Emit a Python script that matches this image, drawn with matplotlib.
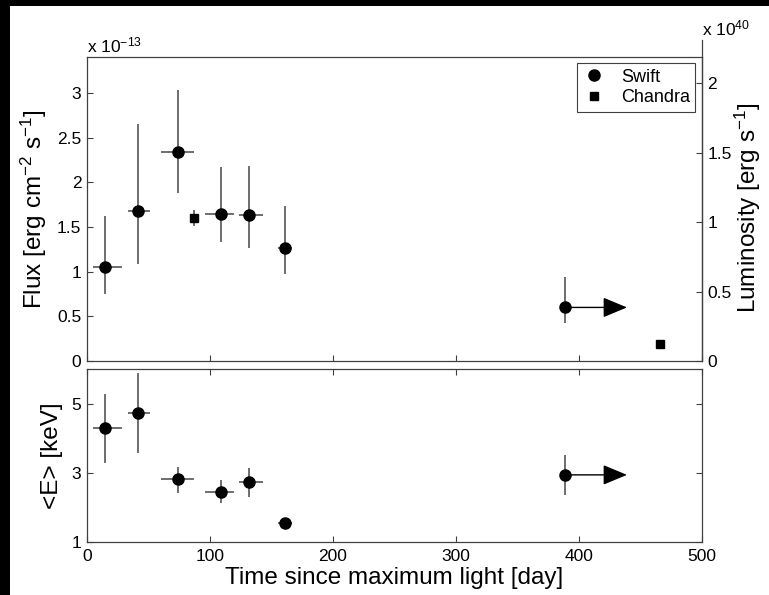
import matplotlib
matplotlib.use("Agg")
import matplotlib.pyplot as plt
from matplotlib.patches import Rectangle
from matplotlib.lines import Line2D
import numpy as np

plt.rcParams["font.family"] = ["Liberation Sans", "DejaVu Sans"]
plt.rcParams["mathtext.fontset"] = "custom"
plt.rcParams["mathtext.rm"] = "Liberation Sans"
plt.rcParams["mathtext.it"] = "Liberation Sans:italic"
plt.rcParams["mathtext.bf"] = "Liberation Sans:bold"

# Swift points (day since max, flux in 1e-13 cgs, mean energy in keV)
swift_day = [14.6, 41.7, 73.7, 109.0, 131.7, 161.0, 388.5]
swift_day_lo = [10.0, 8.7, 13.7, 13.0, 8.0, 6.0, 0.0]
swift_day_hi = [13.5, 9.5, 13.3, 10.5, 11.0, 6.0, 0.0]
swift_flux = [1.05, 1.68, 2.34, 1.65, 1.63, 1.26, 0.60]
swift_flux_min = [0.75, 1.09, 1.88, 1.33, 1.27, 0.97, 0.43]
swift_flux_max = [1.62, 2.65, 3.04, 2.17, 2.18, 1.74, 0.94]
swift_energy = [4.30, 4.74, 2.81, 2.45, 2.73, 1.56, 2.94]
swift_energy_min = [3.29, 3.58, 2.41, 2.12, 2.31, 1.50, 2.35]
swift_energy_max = [5.27, 5.89, 3.18, 2.79, 3.15, 1.62, 3.51]
limit_end_day = 439.0  # last Swift point is a lower limit in time

# Chandra points
chandra_day = [87.2, 466.0]
chandra_flux = [1.605, 0.19]
chandra_flux_min = [1.51, 0.19]
chandra_flux_max = [1.69, 0.19]

flux_ticks = [0, 0.5, 1, 1.5, 2, 2.5, 3]
lum_ticks = [0, 0.5, 1, 1.5, 2]
energy_ticks = [1, 3, 5]
day_ticks = [0, 100, 200, 300, 400, 500]

W, H = 769, 595
ecol = "#555555"
scol = "#404040"


def fx(px):
    return px / W


def fy(py):
    return 1 - py / H


fig = plt.figure(figsize=(W / 100, H / 100), dpi=100)
fig.patch.set_facecolor("black")
fig.patches.append(Rectangle((fx(10), 0), 1 - fx(10), fy(6), transform=fig.transFigure,
                             facecolor="white", edgecolor="none", zorder=-10))

# ---- top panel: flux
ax1 = fig.add_axes([fx(87), fy(361), fx(702) - fx(87), fy(56.7) - fy(361)])
ax1.set_xlim(0, 500)
ax1.set_ylim(0, 3.408)

sf = np.array(swift_flux)
ax1.errorbar(swift_day, swift_flux,
             xerr=[swift_day_lo, swift_day_hi],
             yerr=[sf - np.array(swift_flux_min), np.array(swift_flux_max) - sf],
             fmt="o", color="black", ms=8, ecolor=ecol, elinewidth=1.2, capsize=0, zorder=3)
cf = np.array(chandra_flux)
ax1.errorbar(chandra_day, chandra_flux,
             yerr=[cf - np.array(chandra_flux_min), np.array(chandra_flux_max) - cf],
             fmt="s", color="black", ms=6, ecolor=ecol, elinewidth=1.2, capsize=0, zorder=3)
ax1.annotate("", xy=(limit_end_day, swift_flux[-1]), xytext=(swift_day[-1], swift_flux[-1]),
             arrowprops=dict(arrowstyle="-|>,head_length=0.6,head_width=0.25", mutation_scale=25,
                             color="black", lw=1.0, shrinkA=0, shrinkB=0), zorder=2)

ax1.set_xticks(day_ticks)
ax1.set_yticks(flux_ticks)
ax1.set_yticklabels([f"{t:g}" for t in flux_ticks])
ax1.tick_params(direction="in", length=4, width=0.8, color=scol, labelsize=12.5, pad=4,
                top=False, right=False, labelbottom=False)
for s in ax1.spines.values():
    s.set_color(scol)
    s.set_linewidth(0.9)

handles = [Line2D([], [], marker="o", ls="none", color="black", ms=8),
           Line2D([], [], marker="s", ls="none", color="black", ms=6)]
leg = ax1.legend(handles, ["Swift", "Chandra"], loc="upper right", bbox_to_anchor=(0.989, 0.979),
                 borderaxespad=0, fancybox=False, framealpha=1, edgecolor=scol, fontsize=13,
                 handlelength=1.2, handletextpad=0.9, borderpad=0.3, labelspacing=0.2)
leg.get_frame().set_linewidth(0.8)

fig.text(fx(87), fy(45), r"x 10$^{-13}$", fontsize=12.5, ha="left", va="center")

# ---- luminosity axis (right)
axr = fig.add_axes([fx(87), fy(361), fx(702) - fx(87), fy(39.5) - fy(361)], facecolor="none")
axr.set_ylim(0, 2.313)
axr.set_xticks([])
axr.yaxis.tick_right()
axr.set_yticks(lum_ticks)
axr.set_yticklabels([f"{t:g}" for t in lum_ticks])
axr.tick_params(direction="in", length=4, width=0.8, color=scol, labelsize=12.5, pad=4)
for k in ["top", "left", "bottom"]:
    axr.spines[k].set_visible(False)
axr.spines["right"].set_color(scol)
axr.spines["right"].set_linewidth(0.9)
fig.text(fx(702), fy(28), r"x 10$^{40}$", fontsize=12.5, ha="left", va="center")

# ---- bottom panel: mean energy
ax2 = fig.add_axes([fx(87), fy(542), fx(702) - fx(87), fy(369) - fy(542)])
ax2.set_xlim(0, 500)
ax2.set_ylim(1, 6)
se = np.array(swift_energy)
ax2.errorbar(swift_day, swift_energy,
             xerr=[swift_day_lo, swift_day_hi],
             yerr=[se - np.array(swift_energy_min), np.array(swift_energy_max) - se],
             fmt="o", color="black", ms=8, ecolor=ecol, elinewidth=1.2, capsize=0, zorder=3)
ax2.annotate("", xy=(limit_end_day, swift_energy[-1]), xytext=(swift_day[-1], swift_energy[-1]),
             arrowprops=dict(arrowstyle="-|>,head_length=0.6,head_width=0.25", mutation_scale=25,
                             color="black", lw=1.0, shrinkA=0, shrinkB=0), zorder=2)
ax2.set_xticks(day_ticks)
ax2.set_yticks(energy_ticks)
ax2.tick_params(direction="in", length=4, width=0.8, color=scol, labelsize=12.5, pad=4,
                top=True, right=True)
ax2.tick_params(axis="x", pad=5)
for s in ax2.spines.values():
    s.set_color(scol)
    s.set_linewidth(0.9)

# ---- axis labels
fig.text(fx(34), fy(208.8), r"Flux [erg cm$^{-2}$ s$^{-1}$]", rotation=90, fontsize=17.5,
         ha="center", va="center")
fig.text(fx(748), fy(208), r"Luminosity [erg s$^{-1}$]", rotation=90, fontsize=17.5,
         ha="center", va="center")
fig.text(fx(52), fy(455.5), "<E> [keV]", rotation=90, fontsize=17.5, ha="center", va="center")
fig.text(fx(394.5), fy(584), "Time since maximum light [day]", fontsize=17.5,
         ha="center", va="baseline")

fig.savefig("out.png", dpi=100, facecolor=fig.get_facecolor())
